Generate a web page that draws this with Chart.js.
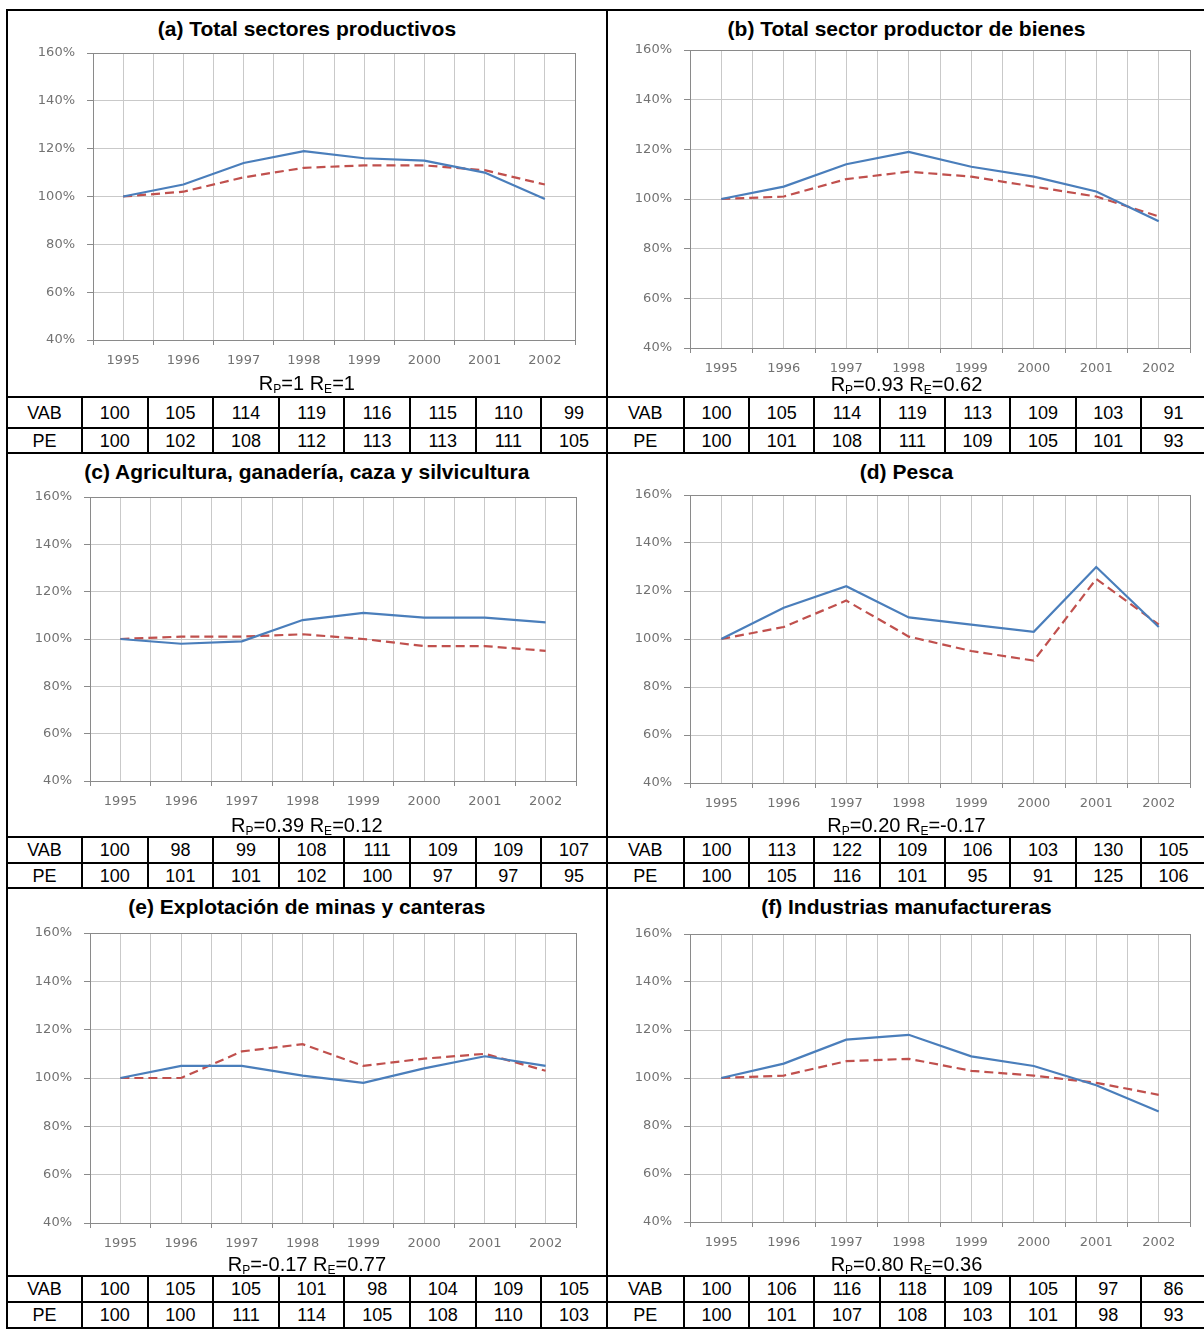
<!DOCTYPE html>
<html>
<head>
<meta charset="utf-8">
<script src="https://cdn.jsdelivr.net/npm/chart.js@4.4.0/dist/chart.umd.min.js"></script>
<style>
  html, body { margin: 0; padding: 0; background: #fff; overflow: hidden; width: 1204px; height: 1334px; }
  table { position: absolute; left: 6px; top: 9px; border-collapse: collapse; table-layout: fixed; width: 1201px; }
  td { border: 2px solid #000; padding: 0; font-family: "Liberation Sans", Arial, sans-serif; font-size: 18px; text-align: center; vertical-align: middle; line-height: 1; color: #000; }
  td.chart { vertical-align: top; }
  .inner { position: relative; width: 100%; }
  .title { position: absolute; left: 0; right: 0; text-align: center; font-weight: bold; font-size: 21px; line-height: 22px; }
  .rlab { position: absolute; left: 0; right: 0; text-align: center; font-size: 20px; line-height: 22px; }
  .rlab sub { font-size: 12px; vertical-align: -3px; line-height: 0; }
  canvas { position: absolute; left: 0; }
</style>
</head>
<body>
<table id="tbl"></table>
<script>
// data
const years = [1995, 1996, 1997, 1998, 1999, 2000, 2001, 2002];
const titles = [
  '(a) Total sectores productivos',
  '(b) Total sector productor de bienes',
  '(c) Agricultura, ganadería, caza y silvicultura',
  '(d) Pesca',
  '(e) Explotación de minas y canteras',
  '(f) Industrias manufactureras'
];
const rp = ['1', '0.93', '0.39', '0.20', '-0.17', '0.80'];
const re = ['1', '0.62', '0.12', '-0.17', '0.77', '0.36'];
const vabA = [100, 105, 114, 119, 116, 115, 110, 99];
const peA  = [100, 102, 108, 112, 113, 113, 111, 105];
const vabB = [100, 105, 114, 119, 113, 109, 103, 91];
const peB  = [100, 101, 108, 111, 109, 105, 101, 93];
const vabC = [100, 98, 99, 108, 111, 109, 109, 107];
const peC  = [100, 101, 101, 102, 100, 97, 97, 95];
const vabD = [100, 113, 122, 109, 106, 103, 130, 105];
const peD  = [100, 105, 116, 101, 95, 91, 125, 106];
const vabE = [100, 105, 105, 101, 98, 104, 109, 105];
const peE  = [100, 100, 111, 114, 105, 108, 110, 103];
const vabF = [100, 106, 116, 118, 109, 105, 97, 86];
const peF  = [100, 101, 107, 108, 103, 101, 98, 93];
const yTicks = [40, 60, 80, 100, 120, 140, 160];

const vab = [vabA, vabB, vabC, vabD, vabE, vabF];
const pe = [peA, peB, peC, peD, peE, peF];

// layout (cell-relative pixels)
const rowH = [[387, 31, 25], [384, 26, 25], [388, 26, 26]];
const geo = [
  { top: 42, bottom: 329, left: 85, right: 567, rl: 361 },
  { top: 39, bottom: 337, left: 82, right: 582, rl: 362 },
  { top: 43, bottom: 327, left: 82, right: 568, rl: 360 },
  { top: 41, bottom: 329, left: 82, right: 582, rl: 360 },
  { top: 44, bottom: 334, left: 82, right: 568, rl: 364 },
  { top: 45, bottom: 333, left: 82, right: 582, rl: 364 }
];
const cellW = [598, 597];

const tbl = document.getElementById('tbl');
let cols = '<colgroup><col style="width:75px">';
for (let i = 0; i < 8; i++) cols += '<col style="width:65.6px">';
cols += '<col style="width:77px">';
for (let i = 0; i < 8; i++) cols += '<col style="width:65.3px">';
cols += '</colgroup>';
let html = cols;
for (let r = 0; r < 3; r++) {
  html += `<tr style="height:${rowH[r][0]}px">`;
  for (let c = 0; c < 2; c++) {
    const k = r * 2 + c;
    const g = geo[k];
    const ch = g.bottom + 34 - (g.top - 10);
    html += `<td class="chart" colspan="9"><div class="inner" style="height:${rowH[r][0] - 2}px">` +
      `<div class="title" style="top:7px">${titles[k]}</div>` +
      `<canvas id="c${k}" width="${cellW[c]}" height="${ch}" style="top:${g.top - 10}px"></canvas>` +
      `<div class="rlab" style="top:${g.rl}px">R<sub>P</sub>=${rp[k]} R<sub>E</sub>=${re[k]}</div>` +
      `</div></td>`;
  }
  html += '</tr>';
  html += `<tr style="height:${rowH[r][1]}px"><td>VAB</td>${vab[r * 2].map(v => `<td>${v}</td>`).join('')}<td>VAB</td>${vab[r * 2 + 1].map(v => `<td>${v}</td>`).join('')}</tr>`;
  html += `<tr style="height:${rowH[r][2]}px"><td>PE</td>${pe[r * 2].map(v => `<td>${v}</td>`).join('')}<td>PE</td>${pe[r * 2 + 1].map(v => `<td>${v}</td>`).join('')}</tr>`;
}
tbl.innerHTML = html;

const tickFont = { family: 'DejaVu Sans', size: 13 };
const tickColor = '#727272';
const gridLight = '#c9c9c9';
const gridDark = '#8a8a8a';

for (let k = 0; k < 6; k++) {
  const g = geo[k];
  const w = cellW[k % 2];
  const plotH = g.bottom - g.top;
  const canvasH = g.bottom + 34 - (g.top - 10);
  new Chart(document.getElementById('c' + k), {
    type: 'line',
    data: {
      datasets: [
        { label: 'VAB', data: years.map((y, i) => ({ x: y, y: vab[k][i] })), borderColor: '#4a7ebb', borderWidth: 2.2, pointRadius: 0, tension: 0 },
        { label: 'PE', data: years.map((y, i) => ({ x: y, y: pe[k][i] })), borderColor: '#c0504d', borderWidth: 2.2, borderDash: [9, 5], pointRadius: 0, tension: 0 }
      ]
    },
    options: {
      responsive: false,
      animation: false,
      layout: { padding: { top: 10, right: w - g.right, left: 0, bottom: 0 } },
      plugins: { legend: { display: false }, tooltip: { enabled: false } },
      scales: {
        x: {
          type: 'linear',
          min: 1994.5,
          max: 2002.5,
          afterBuildTicks: s => { s.ticks = []; for (let v = 1994.5; v <= 2002.5; v += 0.5) s.ticks.push({ value: v }); },
          afterFit: s => { s.height = canvasH - 10 - plotH; s.paddingLeft = 0; s.paddingRight = 0; },
          ticks: {
            autoSkip: false, maxRotation: 0, padding: 8, font: tickFont, color: tickColor,
            callback: v => Number.isInteger(v) ? String(v) : ''
          },
          grid: {
            color: c => c.tick && c.tick.value === 2002.5 ? gridDark : gridLight,
            tickColor: c => c.tick && !Number.isInteger(c.tick.value) ? gridDark : 'rgba(0,0,0,0)',
            tickLength: 5
          },
          border: { display: true, color: gridDark, width: 1 }
        },
        y: {
          min: 40,
          max: 160,
          afterBuildTicks: s => { s.ticks = yTicks.map(v => ({ value: v })); },
          afterFit: s => { s.width = g.left; s.paddingTop = 0; s.paddingBottom = 0; },
          ticks: { padding: 12, font: tickFont, color: tickColor, callback: v => v + '%' },
          grid: {
            color: c => c.tick && c.tick.value === 160 ? gridDark : gridLight,
            tickColor: gridDark,
            tickLength: 6
          },
          border: { display: true, color: gridDark, width: 1 }
        }
      }
    }
  });
}
</script>
</body>
</html>
